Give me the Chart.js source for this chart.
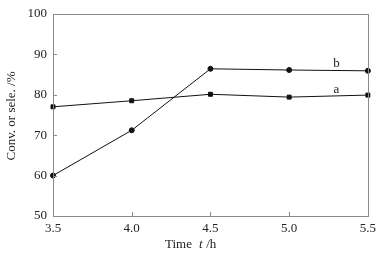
<!DOCTYPE html>
<html><head><meta charset="utf-8">
<script src="https://cdn.jsdelivr.net/npm/chart.js@4"></script>
<style>html,body{margin:0;padding:0;background:#fff}#wrap{width:381px;height:255px}</style>
</head><body><div id="wrap"><canvas id="c" width="381" height="255"></canvas></div>
<script>
const timeH = [3.5, 4.0, 4.5, 5.0, 5.5];
const seriesA = [77.0, 78.5, 80.1, 79.4, 79.9];
const seriesB = [60.0, 71.2, 86.4, 86.1, 85.9];
const xTicks = [3.5, 4.0, 4.5, 5.0, 5.5];
const yTicks = [50, 60, 70, 80, 90, 100];
const seriesLabels = [{name:'a', x:5.3, y:81.3}, {name:'b', x:5.3, y:87.6}];

const FONT = '"Liberation Serif", "Times New Roman", serif';
const axisColor = '#8a8a8a';

const decor = {
  id: 'decor',
  afterDraw(chart) {
    const ctx = chart.ctx, a = chart.chartArea, xs = chart.scales.x, ys = chart.scales.y;
    ctx.save();
    ctx.strokeStyle = axisColor; ctx.lineWidth = 1;
    ctx.strokeRect(Math.round(a.left)+0.5, Math.round(a.top)+0.5, Math.round(a.right-a.left), Math.round(a.bottom-a.top));
    ctx.beginPath();
    xTicks.forEach(v => { const px = Math.round(xs.getPixelForValue(v))+0.5; ctx.moveTo(px, a.bottom); ctx.lineTo(px, a.bottom-4); });
    yTicks.forEach(v => { const py = Math.round(ys.getPixelForValue(v))+0.5; ctx.moveTo(a.left, py); ctx.lineTo(a.left+4, py); });
    ctx.stroke();
    ctx.fillStyle = '#222'; ctx.font = '13px ' + FONT; ctx.textAlign = 'center'; ctx.textBaseline = 'middle';
    seriesLabels.forEach(l => ctx.fillText(l.name, xs.getPixelForValue(l.x), ys.getPixelForValue(l.y)));
    ctx.textAlign = 'left'; ctx.textBaseline = 'alphabetic';
    ctx.font = '13px ' + FONT;
    ctx.fillText('Time', 165, 248);
    ctx.font = 'italic 13px ' + FONT;
    ctx.fillText('t', 199, 248);
    ctx.font = '13px ' + FONT;
    ctx.fillText(' /h', 203, 248);
    ctx.translate(15, 116); ctx.rotate(-Math.PI/2);
    ctx.textAlign = 'center';
    ctx.fillText('Conv. or sele. /%', 0, 0);
    ctx.restore();
  }
};

new Chart(document.getElementById('c'), {
  type: 'line',
  data: {
    datasets: [
      { label: 'a', data: timeH.map((t,i)=>({x:t, y:seriesA[i]})), borderColor:'#111', backgroundColor:'#111', borderWidth:1, pointStyle:'rect', pointRadius:2.8, tension:0, clip:false },
      { label: 'b', data: timeH.map((t,i)=>({x:t, y:seriesB[i]})), borderColor:'#111', backgroundColor:'#111', borderWidth:1, pointStyle:'circle', pointRadius:2.5, tension:0, clip:false }
    ]
  },
  options: {
    responsive: false, animation: false, devicePixelRatio: 1,
    layout: { padding: { top: 8, right: 13, left: 0, bottom: 0 } },
    plugins: { legend: { display: false }, tooltip: { enabled: false } },
    scales: {
      x: {
        type: 'linear', min: 3.5, max: 5.5,
        afterBuildTicks: s => { s.ticks = xTicks.map(v => ({value: v})); },
        afterFit: s => { s.height = 39; },
        grid: { display: false, drawTicks: false },
        border: { display: false },
        ticks: { color: '#222', font: { family: FONT, size: 13 }, padding: 5, maxRotation: 0, callback: v => v.toFixed(1) }
      },
      y: {
        min: 50, max: 100,
        afterBuildTicks: s => { s.ticks = yTicks.map(v => ({value: v})); },
        afterFit: s => { s.width = 53; },
        grid: { display: false, drawTicks: false },
        border: { display: false },
        ticks: { color: '#222', font: { family: FONT, size: 13 }, padding: 6 }
      }
    }
  },
  plugins: [decor]
});
</script></body></html>
